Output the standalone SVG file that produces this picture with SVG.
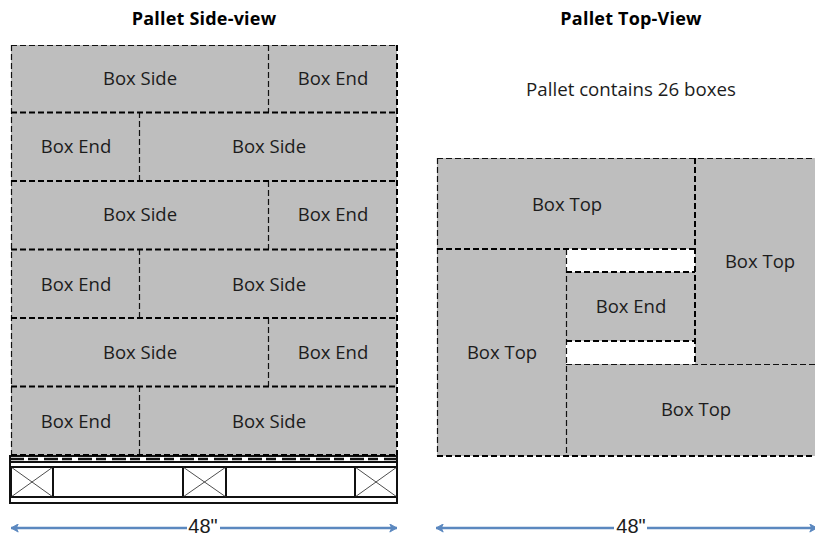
<svg xmlns="http://www.w3.org/2000/svg" width="815" height="537" viewBox="0 0 815 537">
<style>
text{font-family:"Open Sans","Noto Sans","Liberation Sans",sans-serif;fill:#1c1c1c;text-anchor:middle;font-size:18.500px}
.t{font-weight:700;font-size:18px;fill:#000;font-family:"Open Sans",sans-serif;letter-spacing:.2px}
.d{font-family:"Liberation Sans",sans-serif;font-size:20px}
.box{fill:#bebebe}
.thin{fill:none;stroke:#111;stroke-width:1.2;stroke-dasharray:6 3}
.hv{fill:none;stroke:#000;stroke-width:2;stroke-dasharray:6 3}
.gap{fill:#fff}
.s{fill:#fff;stroke:#111;stroke-width:2}
.x{stroke:#222;stroke-width:.8;fill:none}
.a{stroke:#5b88bf;stroke-width:2.400;fill:none}
.ms{marker-start:url(#ah)}
.me{marker-end:url(#ah)}
</style>
<defs><marker id="ah" viewBox="0 0 10 10" refX="9" refY="5" markerWidth="9" markerHeight="9" orient="auto-start-reverse" markerUnits="userSpaceOnUse"><path d="M1 0.500L9 5L1 9.500L3 5Z" fill="#5b88bf" stroke="#5b88bf"/></marker></defs>
<rect width="815" height="537" fill="#fff"/>
<text class="t" x="204" y="25">Pallet Side-view</text>
<text class="t" x="631" y="25">Pallet Top-View</text>
<text x="631" y="96" style="font-size:18.700px">Pallet contains 26 boxes</text>

<g id="pallet">
<rect class="s" x="10" y="456" width="387" height="11"/>
<path d="M10 462H397" stroke="#111" stroke-width="2"/>
<path d="M10 459H397" stroke="#111" stroke-width="2.500" stroke-dasharray="14 4 10 6"/>
<rect class="s" x="10" y="467" width="387" height="30"/>
<rect class="s" x="10" y="497" width="387" height="6"/>
<rect class="s" x="11" y="467" width="42" height="30"/><path class="x" d="M11 467L53 497M53 467L11 497"/>
<rect class="s" x="183" y="467" width="43" height="30"/><path class="x" d="M183 467L226 497M226 467L183 497"/>
<rect class="s" x="355" y="467" width="42" height="30"/><path class="x" d="M355 467L397 497M397 467L355 497"/>
</g>

<g id="r1a"><rect class="box" x="11" y="45" width="257" height="67"/><text x="140" y="85">Box Side</text></g>
<g id="r1b"><rect class="box" x="268" y="45" width="129" height="67"/><text x="333" y="85">Box End</text></g>
<g id="r2a"><rect class="box" x="11" y="112" width="128" height="69"/><text x="76" y="153">Box End</text></g>
<g id="r2b"><rect class="box" x="139" y="112" width="258" height="69"/><text x="269" y="153">Box Side</text></g>
<g id="r3a"><rect class="box" x="11" y="181" width="257" height="68"/><text x="140" y="221">Box Side</text></g>
<g id="r3b"><rect class="box" x="268" y="181" width="129" height="68"/><text x="333" y="221">Box End</text></g>
<g id="r4a"><rect class="box" x="11" y="249" width="128" height="69"/><text x="76" y="291">Box End</text></g>
<g id="r4b"><rect class="box" x="139" y="249" width="258" height="69"/><text x="269" y="291">Box Side</text></g>
<g id="r5a"><rect class="box" x="11" y="318" width="257" height="68"/><text x="140" y="359">Box Side</text></g>
<g id="r5b"><rect class="box" x="268" y="318" width="129" height="68"/><text x="333" y="359">Box End</text></g>
<g id="r6a"><rect class="box" x="11" y="386" width="128" height="69"/><text x="76" y="428">Box End</text></g>
<g id="r6b"><rect class="box" x="139" y="386" width="258" height="69"/><text x="269" y="428">Box Side</text></g>

<g id="t1"><rect class="box" x="437" y="158" width="258" height="91"/><text x="567" y="211">Box Top</text></g>
<g id="t2"><rect class="box" x="695" y="158" width="125" height="206"/><text x="760" y="268">Box Top</text></g>
<g id="t3"><rect class="box" x="437" y="249" width="129" height="207"/><text x="502" y="359">Box Top</text></g>
<g id="t4"><rect class="box" x="566" y="364" width="254" height="92"/><text x="696" y="416">Box Top</text></g>
<g id="gap1"><rect class="gap" x="566" y="249" width="129" height="23"/></g>
<g id="t5"><rect class="box" x="566" y="272" width="129" height="69"/><text x="631" y="313">Box End</text></g>
<g id="gap2"><rect class="gap" x="566" y="341" width="129" height="23"/></g>

<g id="dashes">
<path class="thin" d="M11.500 45V455M268.500 45V112M139.500 112V181M268.500 181V249M139.500 249V318M268.500 318V386M139.500 386V455M11 45.500H397"/>
<path class="hv" d="M397 45V455M11 112.500H397M11 181H397M11 249.500H397M11 318H397M11 386.500H397M11 455H397"/>
<path class="thin" d="M437.500 158V456M566.500 249V456M437 158.500H815M566 364.500H815"/>
<path class="hv" d="M695 158V364M437 249H695M566 272H695M566 341H695M437 456H815"/>
</g>

<g id="connectors">
<path class="a ms" d="M11 528H187"/><path class="a me" d="M220 528H397"/>
<path class="a ms" d="M436 528H614"/><path class="a me" d="M647 528H817"/>
</g>
<text class="d" x="203" y="533">48"</text>
<text class="d" x="631" y="533">48"</text>
</svg>
